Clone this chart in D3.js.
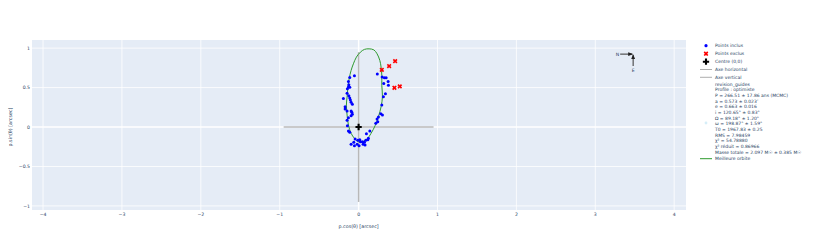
<!DOCTYPE html>
<html>
<head>
<meta charset="utf-8">
<script src="https://cdn.jsdelivr.net/npm/d3@7"></script>
<style>
  body { margin: 0; background: #fff; }
  text { font-family: "DejaVu Sans", Verdana, Arial, sans-serif; }
</style>
</head>
<body>
<div id="container"></div>
<script>
// points inclus (arcsec)
const inclX = [-0.053, -0.112, -0.129, -0.124, -0.129, -0.112, -0.142, -0.146, -0.124, -0.112,
  -0.104, -0.193, -0.095, -0.079, -0.171, -0.171, -0.146, -0.095, -0.086, -0.079,
  -0.095, -0.129, -0.146, -0.142, -0.129, -0.112, -0.044, -0.010, 0.015, -0.061,
  -0.019, 0.023, 0.048, 0.074, 0.091, 0.117, 0.124, 0.057, -0.095, -0.053,
  0.006, 0.082, 0.099, 0.142, 0.218, 0.243, 0.234, 0.251, 0.281, 0.302,
  0.294, 0.314, 0.340, 0.319, 0.374, 0.349, 0.327, 0.298, 0.237, 0.378];
const inclY = [0.649, 0.629, 0.578, 0.535, 0.506, 0.503, 0.485, 0.427, 0.396, 0.367,
  0.342, 0.363, 0.313, 0.287, 0.257, 0.228, 0.203, 0.203, 0.186, 0.161,
  0.143, 0.118, 0.085, 0.016, -0.051, -0.067, -0.152, -0.168, -0.161, -0.194,
  -0.219, -0.186, -0.186, -0.194, -0.168, -0.161, -0.143, -0.219, -0.219, -0.237,
  -0.237, -0.228, -0.085, -0.051, 0.047, 0.067, 0.101, 0.127, 0.168, 0.152,
  0.278, 0.384, 0.422, 0.553, 0.578, 0.624, 0.624, 0.633, 0.671, 0.528];

// points exclus
const exclX = [0.294, 0.387, 0.463, 0.454, 0.522];
const exclY = [0.725, 0.772, 0.835, 0.497, 0.515];

// meilleure orbite
const orbitX = [0.133, 0.074, 0.023, -0.028, -0.066, -0.095, -0.120, -0.137, -0.146, -0.155,
  -0.146, -0.129, -0.095, -0.053, -0.003, 0.048, 0.108, 0.158, 0.209, 0.251,
  0.285, 0.302, 0.294, 0.294, 0.285, 0.269, 0.234, 0.193];
const orbitY = [0.991, 0.984, 0.949, 0.886, 0.801, 0.718, 0.611, 0.485, 0.380, 0.278,
  0.152, 0.025, -0.080, -0.143, -0.186, -0.186, -0.152, -0.080, 0.016, 0.130,
  0.257, 0.384, 0.528, 0.654, 0.759, 0.844, 0.928, 0.978];

// axes de référence
const axisHalf = 0.95;

// graduations
const xTicks = [-4, -3, -2, -1, 0, 1, 2, 3, 4];
const yTicks = [-1, -0.5, 0, 0.5, 1];

// boussole
const compassX = 3.48;
const compassY = 0.924;

const legendLines = [
  "revision_guides",
  "Profile : optimiste",
  "P = 266.51 ± 17.86 ans (MCMC)",
  "a = 0.573 ± 0.023\u2033",
  "e = 0.663 ± 0.016",
  "i = 120.65° ± 0.83°",
  "Ω = 89.18° ± 1.20°",
  "ω = 198.87° ± 1.59°",
  "T0 = 1967.83 ± 0.25",
  "RMS = 7.98459",
  "χ² = 54.78880",
  "χ² réduit = 0.86966",
  "Masse totale = 2.097 M☉ ± 0.385 M☉"
];

const width = 816;
const height = 243;
const plot = { left: 32, top: 40, right: 686, bottom: 210 };
const fontColor = "#2a3f5f";

const svg = d3
  .select("#container")
  .append("svg")
  .attr("width", width)
  .attr("height", height);

const xScale = d3.scaleLinear().domain([-4.14, 4.15]).range([plot.left, plot.right]);
const yScale = d3.scaleLinear().domain([-1.052, 1.103]).range([plot.bottom, plot.top]);

// fond
svg
  .append("rect")
  .attr("x", plot.left)
  .attr("y", plot.top)
  .attr("width", plot.right - plot.left)
  .attr("height", plot.bottom - plot.top)
  .attr("fill", "#e5ecf6");

// grille
const grid = svg.append("g");
grid
  .selectAll(".gx")
  .data(xTicks)
  .enter()
  .append("line")
  .attr("x1", (d) => xScale(d))
  .attr("x2", (d) => xScale(d))
  .attr("y1", plot.top)
  .attr("y2", plot.bottom)
  .attr("stroke", "#fff")
  .attr("stroke-width", (d) => (d === 0 ? 1.5 : 0.8));
grid
  .selectAll(".gy")
  .data(yTicks)
  .enter()
  .append("line")
  .attr("x1", plot.left)
  .attr("x2", plot.right)
  .attr("y1", (d) => yScale(d))
  .attr("y2", (d) => yScale(d))
  .attr("stroke", "#fff")
  .attr("stroke-width", (d) => (d === 0 ? 1.5 : 0.8));

// labels des graduations
const fmt = (d) => d3.format("")(d).replace("-", "\u2212");
svg
  .append("g")
  .selectAll("text")
  .data(xTicks)
  .enter()
  .append("text")
  .attr("x", (d) => xScale(d))
  .attr("y", plot.bottom + 5.6)
  .attr("text-anchor", "middle")
  .attr("font-size", 4.6)
  .attr("fill", fontColor)
  .text(fmt);
svg
  .append("g")
  .selectAll("text")
  .data(yTicks)
  .enter()
  .append("text")
  .attr("x", plot.left - 2)
  .attr("y", (d) => yScale(d) + 1.7)
  .attr("text-anchor", "end")
  .attr("font-size", 4.6)
  .attr("fill", fontColor)
  .text(fmt);

// titres des axes
svg
  .append("text")
  .attr("x", xScale(0))
  .attr("y", 227.5)
  .attr("text-anchor", "middle")
  .attr("font-size", 4.8)
  .attr("fill", fontColor)
  .text("p.cos(θ) [arcsec]");
svg
  .append("text")
  .attr("transform", `translate(11.5, ${yScale(0)}) rotate(-90)`)
  .attr("text-anchor", "middle")
  .attr("font-size", 4.8)
  .attr("fill", fontColor)
  .text("p.sin(θ) [arcsec]");

// axes horizontal et vertical
svg
  .append("line")
  .attr("x1", xScale(-axisHalf))
  .attr("x2", xScale(axisHalf))
  .attr("y1", yScale(0))
  .attr("y2", yScale(0))
  .attr("stroke", "#b8b8b8")
  .attr("stroke-width", 1.5);
svg
  .append("line")
  .attr("x1", xScale(0))
  .attr("x2", xScale(0))
  .attr("y1", yScale(-axisHalf))
  .attr("y2", yScale(axisHalf))
  .attr("stroke", "#b8b8b8")
  .attr("stroke-width", 1.5);

// orbite
const orbit = orbitX.map((x, i) => [x, orbitY[i]]);
svg
  .append("path")
  .datum(orbit)
  .attr(
    "d",
    d3
      .line()
      .x((d) => xScale(d[0]))
      .y((d) => yScale(d[1]))
      .curve(d3.curveCatmullRomClosed)
  )
  .attr("fill", "none")
  .attr("stroke", "#2e9a2e")
  .attr("stroke-width", 1);

// points inclus
svg
  .append("g")
  .selectAll("circle")
  .data(inclX.map((x, i) => [x, inclY[i]]))
  .enter()
  .append("circle")
  .attr("cx", (d) => xScale(d[0]))
  .attr("cy", (d) => yScale(d[1]))
  .attr("r", 1.5)
  .attr("fill", "#0000ff");

// points exclus
const xSym = d3.symbol().type(d3.symbolCross).size(14);
svg
  .append("g")
  .selectAll("path")
  .data(exclX.map((x, i) => [x, exclY[i]]))
  .enter()
  .append("path")
  .attr("d", xSym)
  .attr("transform", (d) => `translate(${xScale(d[0])}, ${yScale(d[1])}) rotate(45)`)
  .attr("fill", "#ff0000");

// centre
const crossSym = d3.symbol().type(d3.symbolCross).size(22);
svg
  .append("path")
  .attr("d", crossSym)
  .attr("transform", `translate(${xScale(0)}, ${yScale(0)})`)
  .attr("fill", "#000");

// boussole N / E
svg
  .append("defs")
  .append("marker")
  .attr("id", "head")
  .attr("viewBox", "0 0 10 10")
  .attr("refX", 8)
  .attr("refY", 5)
  .attr("markerWidth", 4.5)
  .attr("markerHeight", 4.5)
  .attr("orient", "auto")
  .append("path")
  .attr("d", "M0,1 L10,5 L0,9 z")
  .attr("fill", "#222");
const cx = xScale(compassX);
const cy = yScale(compassY);
svg
  .append("line")
  .attr("x1", cx - 13)
  .attr("x2", cx - 1)
  .attr("y1", cy)
  .attr("y2", cy)
  .attr("stroke", "#444")
  .attr("stroke-width", 1.1)
  .attr("marker-end", "url(#head)");
svg
  .append("line")
  .attr("x1", cx)
  .attr("x2", cx)
  .attr("y1", cy + 12)
  .attr("y2", cy + 1)
  .attr("stroke", "#444")
  .attr("stroke-width", 1.1)
  .attr("marker-end", "url(#head)");
svg
  .append("text")
  .attr("x", cx - 14)
  .attr("y", cy + 1.7)
  .attr("text-anchor", "end")
  .attr("font-size", 4.6)
  .attr("fill", fontColor)
  .text("N");
svg
  .append("text")
  .attr("x", cx)
  .attr("y", cy + 18)
  .attr("text-anchor", "middle")
  .attr("font-size", 4.6)
  .attr("fill", fontColor)
  .text("E");

// légende
const legend = svg.append("g").attr("transform", "translate(706, 0)");
const legendText = (y, t) =>
  legend
    .append("text")
    .attr("x", 9)
    .attr("y", y + 1.6)
    .attr("font-size", 4.5)
    .attr("fill", fontColor)
    .text(t);

legend.append("circle").attr("cx", 0).attr("cy", 45.7).attr("r", 1.6).attr("fill", "#0000ff");
legendText(45.7, "Points inclus");
legend
  .append("path")
  .attr("d", xSym)
  .attr("transform", "translate(0, 53.7) rotate(45)")
  .attr("fill", "#ff0000");
legendText(53.7, "Points exclus");
legend.append("path").attr("d", crossSym).attr("transform", "translate(0, 61.7)").attr("fill", "#000");
legendText(61.7, "Centre (0,0)");
legend
  .append("line")
  .attr("x1", -6)
  .attr("x2", 6)
  .attr("y1", 69.5)
  .attr("y2", 69.5)
  .attr("stroke", "#999")
  .attr("stroke-width", 0.8);
legendText(69.5, "Axe horizontal");
legend
  .append("line")
  .attr("x1", -6)
  .attr("x2", 6)
  .attr("y1", 77.3)
  .attr("y2", 77.3)
  .attr("stroke", "#999")
  .attr("stroke-width", 0.8);
legendText(77.3, "Axe vertical");

legend.append("circle").attr("cx", 0).attr("cy", 123).attr("r", 1.4).attr("fill", "#d6eef8");
legendLines.forEach((t, i) => legendText(84 + i * 5.67, t));

legend
  .append("line")
  .attr("x1", -6)
  .attr("x2", 6)
  .attr("y1", 158.7)
  .attr("y2", 158.7)
  .attr("stroke", "#2e9a2e")
  .attr("stroke-width", 1);
legendText(158.7, "Meilleure orbite");
</script>
</body>
</html>
